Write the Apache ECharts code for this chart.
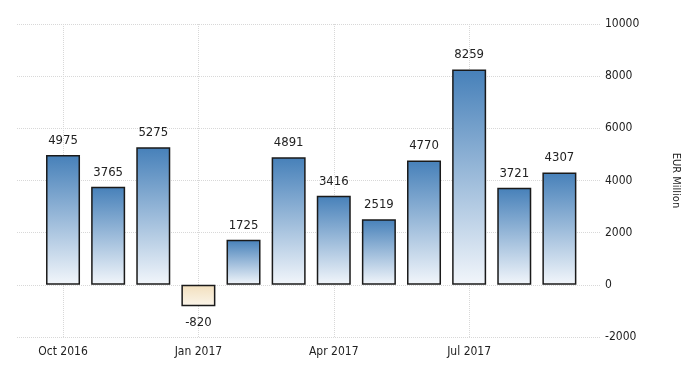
<!DOCTYPE html>
<html><head><meta charset="utf-8">
<script src="https://cdn.jsdelivr.net/npm/echarts@6/dist/echarts.min.js"></script>
<style>html,body{margin:0;padding:0;background:#fff}#c{width:700px;height:375px}</style>
</head><body><div id="c"></div>
<script>
var categories = ['Oct 2016','Nov 2016','Dec 2016','Jan 2017','Feb 2017','Mar 2017','Apr 2017','May 2017','Jun 2017','Jul 2017','Aug 2017','Sep 2017'];
var values = [4975, 3765, 5275, -820, 1725, 4891, 3416, 2519, 4770, 8259, 3721, 4307];
var tickIndexes = [0, 3, 6, 9];

var FONT = '"DejaVu Sans Condensed", "Liberation Sans Narrow", sans-serif';
var blueGrad = new echarts.graphic.LinearGradient(0,0,0,1,[{offset:0,color:'#4680b9'},{offset:1,color:'#f2f6fb'}]);
var creamGrad = new echarts.graphic.LinearGradient(0,0,0,1,[{offset:0,color:'#f2dfbd'},{offset:1,color:'#fbf5ea'}]);

var data = values.map(function(v,i){
  return {
    value:[i,v],
    itemStyle:{color: v<0 ? creamGrad : blueGrad},
    label:{position: v<0 ? 'bottom' : 'top', distance: v<0 ? 10 : 8}
  };
});

var chart = echarts.init(document.getElementById('c'), null, {renderer:'canvas'});
chart.setOption({
  animation:false,
  grid:{left:17, right:100, top:24, bottom:38, containLabel:false},
  xAxis:{
    type:'value', min:-1.02, max:11.9,
    axisLine:{show:false},
    axisTick:{show:false, customValues: tickIndexes},
    axisLabel:{customValues: tickIndexes, formatter:function(v){return categories[Math.round(v)];}, color:'#222', fontFamily:FONT, fontSize:12, margin:9},
    splitLine:{show:true, lineStyle:{color:'#d8d8d8', type:'dotted', width:1}}
  },
  yAxis:{
    type:'value', position:'right', min:-2000, max:10000, interval:2000,
    axisLine:{show:false}, axisTick:{show:false},
    axisLabel:{color:'#222', fontFamily:FONT, fontSize:12, margin:5, formatter:function(v){return String(v);}},
    splitLine:{show:true, lineStyle:{color:'#d8d8d8', type:'dotted', width:1}},
    name:'EUR Million', nameLocation:'middle', nameRotate:-90, nameGap:70,
    nameTextStyle:{color:'#222', fontFamily:FONT, fontSize:11}
  },
  series:[{
    type:'bar', data:data, barWidth:34,
    itemStyle:{borderColor:'#1a1a1a', borderWidth:1.5},
    label:{show:true, formatter:function(p){return String(p.value[1]);}, color:'#222', fontFamily:FONT, fontSize:13}
  }]
});
</script></body></html>
